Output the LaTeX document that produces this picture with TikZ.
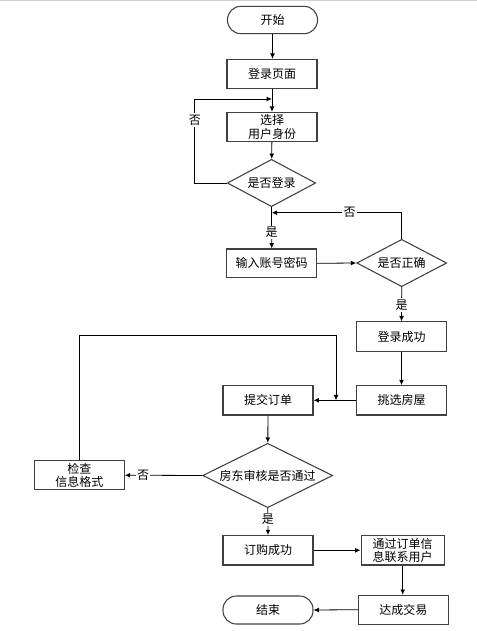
\documentclass[tikz,border=0pt]{standalone}
\usepackage{fontspec}
\newfontfamily\cjk{Noto Sans CJK SC}
\usetikzlibrary{shapes.geometric,arrows.meta}
\tikzset{
	txt/.style={font=\cjk\fontsize{9}{10}\selectfont, text=black, align=center},
	box/.style={txt, draw=black!75, line width=0.8pt, minimum width=67.5pt, minimum height=22pt, inner sep=1pt},
	term/.style={box, rounded corners=10pt, minimum height=20.5pt},
	dec/.style={txt, draw=black!75, line width=0.8pt, diamond, inner sep=0pt},
	arr/.style={draw=black, line width=0.6pt, -{Latex[length=4pt,width=3.6pt]}},
	ln/.style={draw=black, line width=0.6pt},
	lbl/.style={txt, fill=white, inner sep=1pt}
}
\begin{document}
\begin{tikzpicture}[x=0.75pt,y=0.75pt,yscale=-1,xscale=1]
	\useasboundingbox (0,0) rectangle (477,631);
	\fill[black!18] (0,0) rectangle (477,1.5);
	% upper column
	\node[term] (start) at (272.5,20) {开始};
	\node[box] (page) at (272,74) {登录页面};
	\node[box] (role) at (272,127) {选择\\用户身份};
	\node[dec, aspect=1.87, minimum width=66.3pt, minimum height=35.5pt] (islogin) at (271.5,183) {是否登录};
	\coordinate (back) at (272,99);
	\coordinate (merge) at (271.7,212.7);
	\node[box, minimum height=21.5pt] (input) at (271.7,263.3) {输入账号密码};
	\node[dec, aspect=1.9, minimum width=67.5pt, minimum height=35.5pt] (check) at (401.7,263) {是否正确};
	\node[box] (ok) at (401.5,336.5) {登录成功};
	\node[box] (pick) at (401.5,400.3) {挑选房屋};
	% lower part
	\node[box] (submit) at (268,400.3) {提交订单};
	\coordinate (join) at (336,400.3);
	\node[dec, aspect=2.02, minimum width=97.5pt, minimum height=48.3pt] (audit) at (267.7,475.5) {房东审核是否通过};
	\node[box] (fix) at (79.3,475.2) {检查\\信息格式};
	\node[box] (done) at (268,550.3) {订购成功};
	\node[box, minimum width=62.5pt] (notify) at (402.7,550.3) {通过订单信\\息联系用户};
	\node[box, minimum height=21.5pt] (deal) at (403.3,609.7) {达成交易};
	\node[term, minimum height=21pt] (stop) at (268,610) {结束};
	% connectors
	\draw[arr] (start) -- (start |- page.north);
	\draw[arr] (page) -- (role);
	\draw[arr] (islogin.west) -- ++(-32,0) |- node[lbl, pos=0.375] {否} (back);
	\draw[arr] (role) -- (islogin);
	\draw[arr] (islogin.south) -- node[lbl, pos=0.61] {是} (input.north);
	\draw[arr] (input.east) -- (check.west);
	\draw[arr] (check.north) |- node[lbl, pos=0.7] {否} (merge);
	\draw[arr] (check.south) -- node[lbl, pos=0.52] {是} (ok.north);
	\draw[arr] (ok) -- (pick);
	\draw[arr] (pick.west) -- (submit.east);
	\draw[arr] (fix.north) -- ++(0,-124.3) -| (join);
	\draw[arr] (submit) -- (audit);
	\draw[arr] (audit.west) -- node[lbl, pos=0.765] {否} (fix.east);
	\draw[arr] (audit.south) -- node[lbl, pos=0.405] {是} (done.north);
	\draw[arr] (done.east) -- (notify.west);
	\draw[arr] (notify.south) -- (notify.south |- deal.north);
	\draw[arr] (deal.west) -- (stop.east);
\end{tikzpicture}
\end{document}
